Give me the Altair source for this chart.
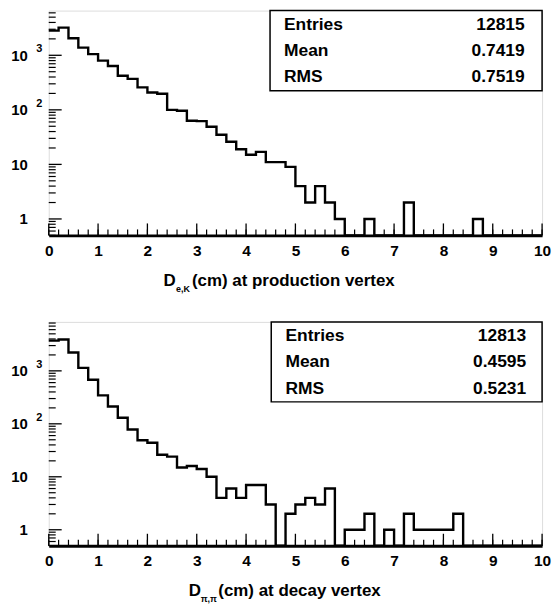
import altair as alt
import pandas as pd

# ---------------- data ----------------
bin_width = 0.2
n_bins = 50

top_counts = [2830, 3220, 2050, 1380, 1050, 800, 635, 422, 370, 258,
              208, 197, 100, 96, 63, 62, 49, 35, 26, 19,
              15, 17, 11, 11, 9, 4, 2, 4, 2, 1,
              0, 0, 1, 0, 0, 0, 2, 0, 0, 0,
              0, 0, 0, 1, 0, 0, 0, 0, 0, 0]

bottom_counts = [3720, 3900, 2220, 1140, 680, 345, 212, 130, 78, 49,
                 44, 26, 24, 15, 16, 14, 10, 4, 6, 4,
                 7, 7, 3, 0, 2, 3, 4, 3, 6, 0,
                 1, 1, 2, 0, 1, 0, 2, 1, 1, 1,
                 1, 2, 0, 0, 0, 0, 0, 0, 0, 0]

stats_labels = ["Entries", "Mean", "RMS"]
top_stats_values = ["12815", "0.7419", "0.7519"]
bottom_stats_values = ["12813", "0.4595", "0.5231"]

top_title = ["D", "e,K", "(cm) at production vertex"]
bottom_title = ["D", "\u03c0,\u03c0", "(cm) at decay vertex"]

x_major = list(range(11))
y_major = [1, 10, 100, 1000]
exp_values = [100, 1000]
exp_labels = ["2", "3"]

# ---------------- style ----------------
FONT = "Liberation Sans"
W = 496
YMIN = 0.5


def minor_y(ymax):
    out = []
    for dec in [0.1, 1, 10, 100, 1000]:
        for k in range(2, 10):
            v = k * dec
            if YMIN <= v <= ymax:
                out.append(v)
    return out


def panel(counts, stats_vals, title_parts, ymax, H, title_x, row_y, box_h,
          txt_l, txt_r, box_l):
    edges = [round(i * bin_width, 2) for i in range(n_bins + 1)]
    vals = [c if c > 0 else YMIN for c in counts] + [YMIN]
    df = pd.DataFrame({"edge": edges, "count": vals})

    xscale = alt.Scale(domain=[0, 10], nice=False, zero=False)
    yscale = alt.Scale(type="log", domain=[YMIN, ymax], nice=False)

    hist = alt.Chart(df).mark_line(
        interpolate="step-after", color="black", strokeWidth=2.4
    ).encode(
        x=alt.X("edge:Q", scale=xscale, axis=alt.Axis(
            values=x_major, format="d", title=None, grid=False, ticks=False,
            tickSize=0, labelPadding=8, labelFont=FONT, labelFontSize=15.5,
            labelFontWeight="bold", labelColor="black", domain=True,
            domainColor="black", domainWidth=3, labelFlush=False)),
        y=alt.Y("count:Q", scale=yscale, axis=alt.Axis(
            values=y_major, title=None, grid=False, ticks=False, tickSize=0,
            labelPadding=21.5, labelFont=FONT, labelFontSize=15,
            labelFontWeight="bold", labelColor="black", domain=False,
            labelExpr="datum.value >= 100 ? '10' : format(datum.value, 'd')")),
    )

    # inward ticks on x axis
    xminor = [round(i * bin_width, 2) for i in range(n_bins + 1)]
    xt_min = alt.Chart(pd.DataFrame({"edge": xminor})).mark_rule(
        color="black", strokeWidth=1.2
    ).encode(x=alt.X("edge:Q", scale=xscale), y=alt.value(H), y2=alt.value(H - 6))
    xt_maj = alt.Chart(pd.DataFrame({"edge": x_major})).mark_rule(
        color="black", strokeWidth=1.3
    ).encode(x=alt.X("edge:Q", scale=xscale), y=alt.value(H), y2=alt.value(H - 12))

    # inward ticks on y axis
    yt_min = alt.Chart(pd.DataFrame({"count": minor_y(ymax)})).mark_rule(
        color="black", strokeWidth=1.2
    ).encode(y=alt.Y("count:Q", scale=yscale), x=alt.value(0), x2=alt.value(7))
    yt_maj = alt.Chart(pd.DataFrame({"count": y_major})).mark_rule(
        color="black", strokeWidth=1.3
    ).encode(y=alt.Y("count:Q", scale=yscale), x=alt.value(0), x2=alt.value(13))

    # exponents of the y labels
    exps = alt.Chart(pd.DataFrame({"count": exp_values, "exp": exp_labels})).mark_text(
        align="left", baseline="middle", dy=-6, font=FONT, fontSize=11,
        fontWeight="bold", color="black"
    ).encode(y=alt.Y("count:Q", scale=yscale), x=alt.value(-12.5), text="exp:N")

    # stats box
    box = alt.Chart(pd.DataFrame({"a": [0]})).mark_rect(
        fill="white", stroke="black", strokeWidth=1.5
    ).encode(x=alt.value(box_l), x2=alt.value(W), y=alt.value(0), y2=alt.value(box_h))

    sdf = pd.DataFrame({"row": [0, 1, 2], "label": stats_labels, "value": stats_vals})
    stat_layers = []
    for i in range(3):
        base = alt.Chart(sdf).transform_filter(alt.datum.row == i)
        stat_layers.append(base.mark_text(
            align="left", baseline="middle", font=FONT, fontSize=17.5,
            fontWeight="bold", color="black"
        ).encode(text="label:N", x=alt.value(txt_l), y=alt.value(row_y[i])))
        stat_layers.append(base.mark_text(
            align="right", baseline="middle", font=FONT, fontSize=17.5,
            fontWeight="bold", color="black"
        ).encode(text="value:N", x=alt.value(txt_r), y=alt.value(row_y[i])))

    # axis title with subscript
    tdf = pd.DataFrame({"i": [0, 1, 2], "part": title_parts})
    tl = []
    sizes = [17, 9, 17]
    offs = [51, 57, 51]
    for i in range(3):
        tl.append(alt.Chart(tdf).transform_filter(alt.datum.i == i).mark_text(
            align="left", baseline="alphabetic", font=FONT, fontSize=sizes[i],
            fontWeight="bold", color="black"
        ).encode(text="part:N", x=alt.value(title_x[i]), y=alt.value(H + offs[i])))

    return alt.layer(hist, xt_min, xt_maj, yt_min, yt_maj, exps, box,
                     *stat_layers, *tl).properties(width=W, height=H)


top = panel(top_counts, top_stats_values, top_title, 6600, 226,
            [115.5, 128, 144], [14.5, 40.8, 66.5], 80.5, 236.5, 478.5, 222.5)
bottom = panel(bottom_counts, bottom_stats_values, bottom_title, 8400, 225,
               [140.7, 152.8, 170.5], [13.7, 40.4, 67], 80.4, 238, 480, 223.7)

chart = alt.vconcat(top, bottom, spacing=25).properties(
    padding={"left": 10, "top": 7, "right": 5, "bottom": 2}
).configure_view(stroke="black", strokeWidth=2).configure(background="white")

chart.save("out.html", embed_options={"renderer": "svg", "actions": False})
